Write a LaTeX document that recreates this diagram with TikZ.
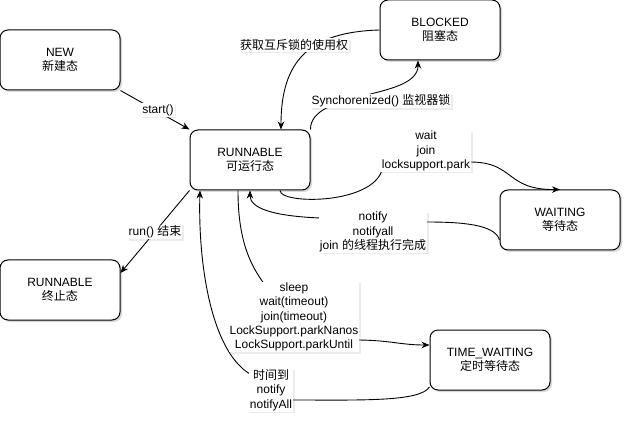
\documentclass[tikz,border=0pt]{standalone}
\usepackage{fontspec}
\setmainfont{Liberation Sans}
\newfontfamily\cjk{Noto Sans CJK SC}
\usetikzlibrary{arrows.meta,shadows}

\begin{document}
\begin{tikzpicture}[x=1pt, y=-1pt, line width=0.9pt,
   font=\fontsize{12pt}{14.4pt}\selectfont,
   state/.style={draw, rounded corners=8pt, fill=white, align=center,
     minimum width=120pt, minimum height=60pt, inner sep=0pt, line width=1pt,
     drop shadow={shadow xshift=2pt, shadow yshift=-2pt, opacity=0.3}},
   lbl/.style={fill=white, align=center, inner sep=1pt,
     drop shadow={shadow xshift=1.5pt, shadow yshift=-1.5pt, opacity=0.15}},
   trans/.style={-{Stealth[length=8pt, width=6.5pt, inset=2.5pt]}}]
   \useasboundingbox (0,0) rectangle (632,422);

   % states
   \node[state] (new)  at (60,60)   {NEW\\{\cjk 新建态}};
   \node[state] (run)  at (250,160) {RUNNABLE\\{\cjk 可运行态}};
   \node[state] (blk)  at (440,30)  {BLOCKED\\{\cjk 阻塞态}};
   \node[state] (wait) at (560,220) {WAITING\\{\cjk 等待态}};
   \node[state] (tw)   at (490,360) {TIME\_WAITING\\{\cjk 定时等待态}};
   \node[state] (fin)  at (60,290)  {RUNNABLE\\{\cjk 终止态}};

   % transitions
   \draw[trans] (new.south east) -- (run.north west);
   \draw[trans] (run.south west) -- ([yshift=17pt]fin.east);
   \draw[trans] (blk.west) .. controls (310,32) and (281,60) .. ([xshift=31pt]run.north);
   \draw[trans] (run.north east) .. controls (310,90) and (418,100) .. ([xshift=-22pt]blk.south);
   \draw[trans] ([xshift=30pt]run.south) .. controls (280,205) and (380,205) .. (383,165)
       -- (470,162) .. controls (515,162) and (505,190) .. (wait.north);
   \draw[trans] ([yshift=-20pt]wait.west) .. controls (495,224) and (460,222) .. (426,222)
       -- (320,218) .. controls (272,216) and (250,208) .. (run.south);
   \draw[trans] ([xshift=-12pt]run.south) .. controls (238,240) and (250,265) .. (265,285)
       -- (355,340) .. controls (390,340) and (400,345) .. ([yshift=15pt]tw.west);
   \draw[trans] ([yshift=-27pt]tw.west) .. controls (420,402) and (360,400) .. (293,400)
       -- (250,374) .. controls (210,350) and (198,260) .. ([xshift=-50pt]run.south);

   % labels
   \node[lbl] (lstart) at (158,110) {start()};
   \node[lbl] (lend)   at (155,232) {run() {\cjk 结束}};
   \node[lbl] (lacq)   at (294,45)  {{\cjk 获取互斥锁的使用权}};
   \node[lbl] (lsync)  at (381,101) {Synchorenized() {\cjk 监视器锁}};
   \node[lbl] (lwait)  at (426,151) {wait\\join\\locksupport.park};
   \node[lbl] (lnot)   at (373,232) {notify\\notifyall\\join {\cjk 的线程执行完成}};
   \node[lbl] (lsleep) at (294,317) {sleep\\wait(timeout)\\join(timeout)\\LockSupport.parkNanos\\LockSupport.parkUntil};
   \node[lbl] (ltime)  at (271,390) {{\cjk 时间到}\\notify\\notifyAll};
\end{tikzpicture}
\end{document}
